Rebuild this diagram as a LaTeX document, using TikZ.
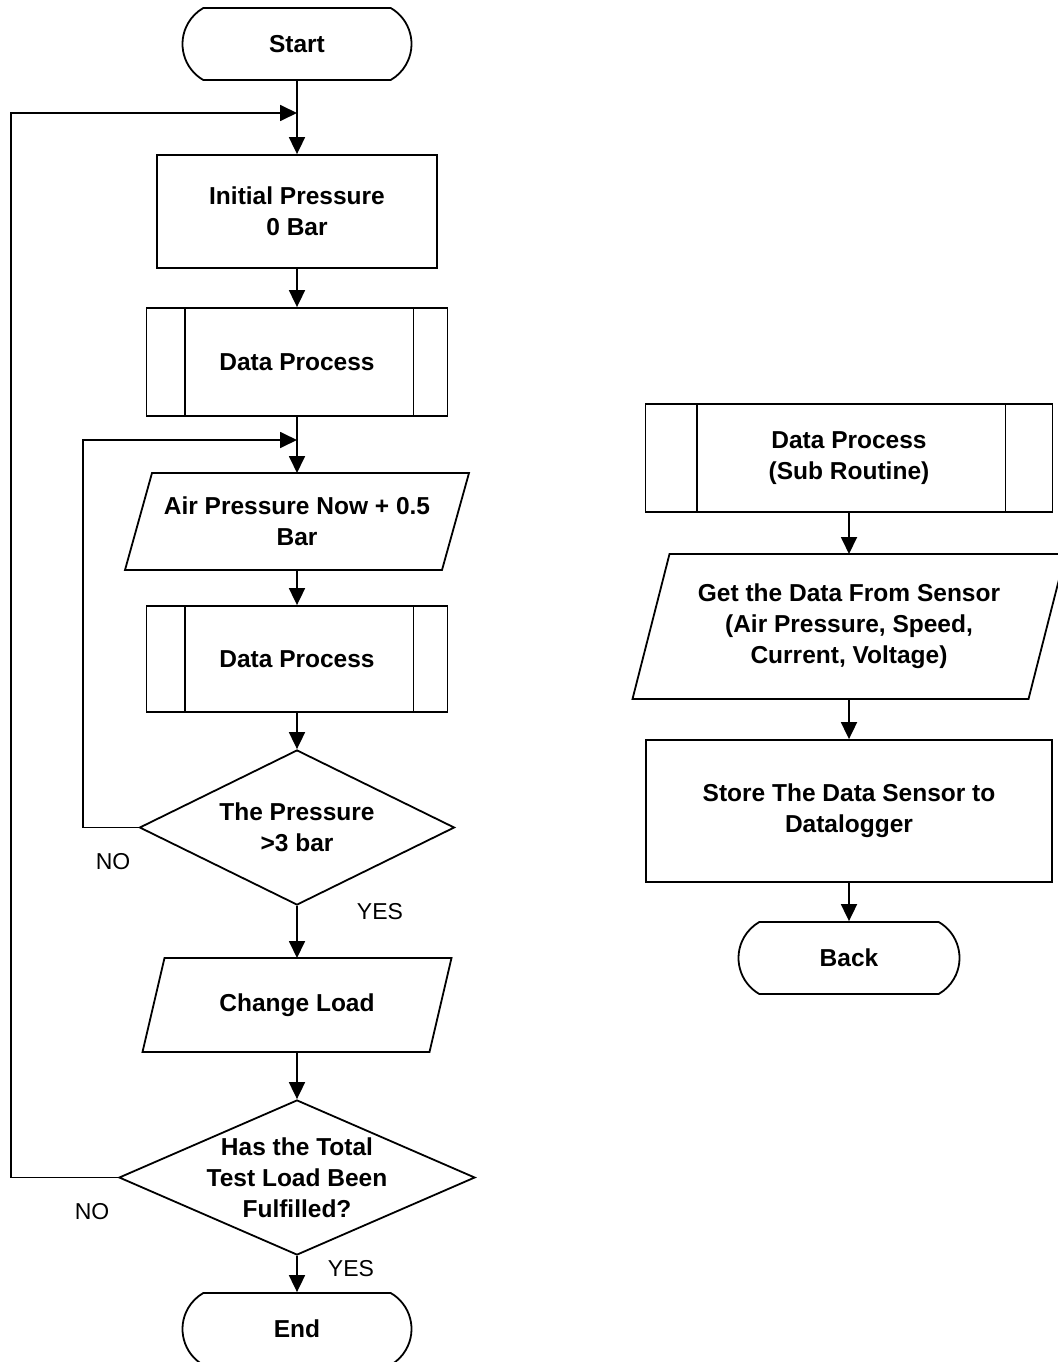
\documentclass[tikz,border=0pt]{standalone}
\usepackage{fontspec}
\setmainfont{Liberation Sans}
\usetikzlibrary{arrows.meta,shapes.geometric,shapes.misc}
\newcommand\btxt{\fontsize{24.5}{31}\selectfont\bfseries}
\newcommand\ltxt{\fontsize{23}{28}\selectfont}
\begin{document}
\begin{tikzpicture}[x=1pt,y=-1pt,line width=1.8pt,
  arr/.style={-{Triangle[length=17pt,width=16pt]}},
  box/.style={draw,rectangle,inner sep=0pt,align=center,font=\btxt},
  shapebox/.style={rectangle,inner sep=0pt,outer sep=0pt,align=center,font=\btxt},
  term/.style={draw,rounded rectangle,rounded rectangle arc length=120,inner sep=0pt,
    minimum width=229pt,minimum height=72pt,font=\btxt},
  dec/.style={draw,diamond,inner sep=0pt},
  txt/.style={align=center,font=\btxt,inner sep=0pt},
  lab/.style={font=\ltxt,inner sep=0pt}]
\useasboundingbox (0,0) rectangle (1057,1362);

% ---------- main flow ----------
\node[term] (start) at (297,44) {Start};
\node[box,minimum width=280pt,minimum height=113pt] (init) at (297,211.5) {Initial Pressure\\0 Bar};
\node[box,minimum width=301pt,minimum height=108pt] (dp1) at (297,362) {Data Process};
\draw ([xshift=39pt]dp1.north west) -- ([xshift=39pt]dp1.south west)
      ([xshift=-35pt]dp1.north east) -- ([xshift=-35pt]dp1.south east);
\node[shapebox,minimum width=344pt,minimum height=97pt] (p1) at (297,521.5) {Air Pressure Now + 0.5\\Bar};
\draw (p1.south west) -- ([xshift=-27pt]p1.south east) -- (p1.north east) -- ([xshift=27pt]p1.north west) -- cycle;
\node[box,minimum width=301pt,minimum height=106pt] (dp2) at (297,659) {Data Process};
\draw ([xshift=39pt]dp2.north west) -- ([xshift=39pt]dp2.south west)
      ([xshift=-35pt]dp2.north east) -- ([xshift=-35pt]dp2.south east);
\node[dec,minimum width=315pt,minimum height=155pt] (d1) at (297,827.5) {};
\node[txt] (d1t) at (d1) {The Pressure\\>3 bar};
\node[shapebox,minimum width=309pt,minimum height=94pt] (p2) at (297,1005) {Change Load};
\draw (p2.south west) -- ([xshift=-22pt]p2.south east) -- (p2.north east) -- ([xshift=22pt]p2.north west) -- cycle;
\node[dec,minimum width=356pt,minimum height=155pt] (d2) at (297,1177.5) {};
\node[txt] (d2t) at (d2) {Has the Total\\Test Load Been\\Fulfilled?};
\node[term] (end) at (297,1329) {End};

\coordinate (j1) at (297,113);
\coordinate (j2) at (297,440);

\draw[arr] (start.south) -- (init.north);
\draw[arr] (init.south) -- (dp1.north);
\draw[arr] (dp1.south) -- (p1.north);
\draw[arr] (p1.south) -- (dp2.north);
\draw[arr] (dp2.south) -- (d1.north);
\draw[arr] (d1.south) -- (p2.north);
\draw[arr] (p2.south) -- (d2.north);
\draw[arr] (d2.south) -- (end.north);
\draw[arr] (d1.west) -- ++(-56,0) |- (j2);
\draw[arr] (d2.west) -- ++(-107,0) |- (j1);

\node[lab] (no1) at (113,862) {NO};
\node[lab] (yes1) at (380,912) {YES};
\node[lab] (no2) at (92,1212) {NO};
\node[lab] (yes2) at (351,1269) {YES};

% ---------- sub routine ----------
\node[box,minimum width=407pt,minimum height=108pt] (sub) at (849,458) {Data Process\\(Sub Routine)};
\draw ([xshift=52pt]sub.north west) -- ([xshift=52pt]sub.south west)
      ([xshift=-48pt]sub.north east) -- ([xshift=-48pt]sub.south east);
\node[shapebox,minimum width=433pt,minimum height=145pt] (get) at (849,626.5) {Get the Data From Sensor\\(Air Pressure, Speed,\\Current, Voltage)};
\draw (get.south west) -- ([xshift=-37pt]get.south east) -- (get.north east) -- ([xshift=37pt]get.north west) -- cycle;
\node[box,minimum width=406pt,minimum height=142pt] (store) at (849,811) {Store The Data Sensor to\\Datalogger};
\node[term,minimum width=221pt] (back) at (849,958) {Back};

\draw[arr] (sub.south) -- (get.north);
\draw[arr] (get.south) -- (store.north);
\draw[arr] (store.south) -- (back.north);
\end{tikzpicture}
\end{document}
